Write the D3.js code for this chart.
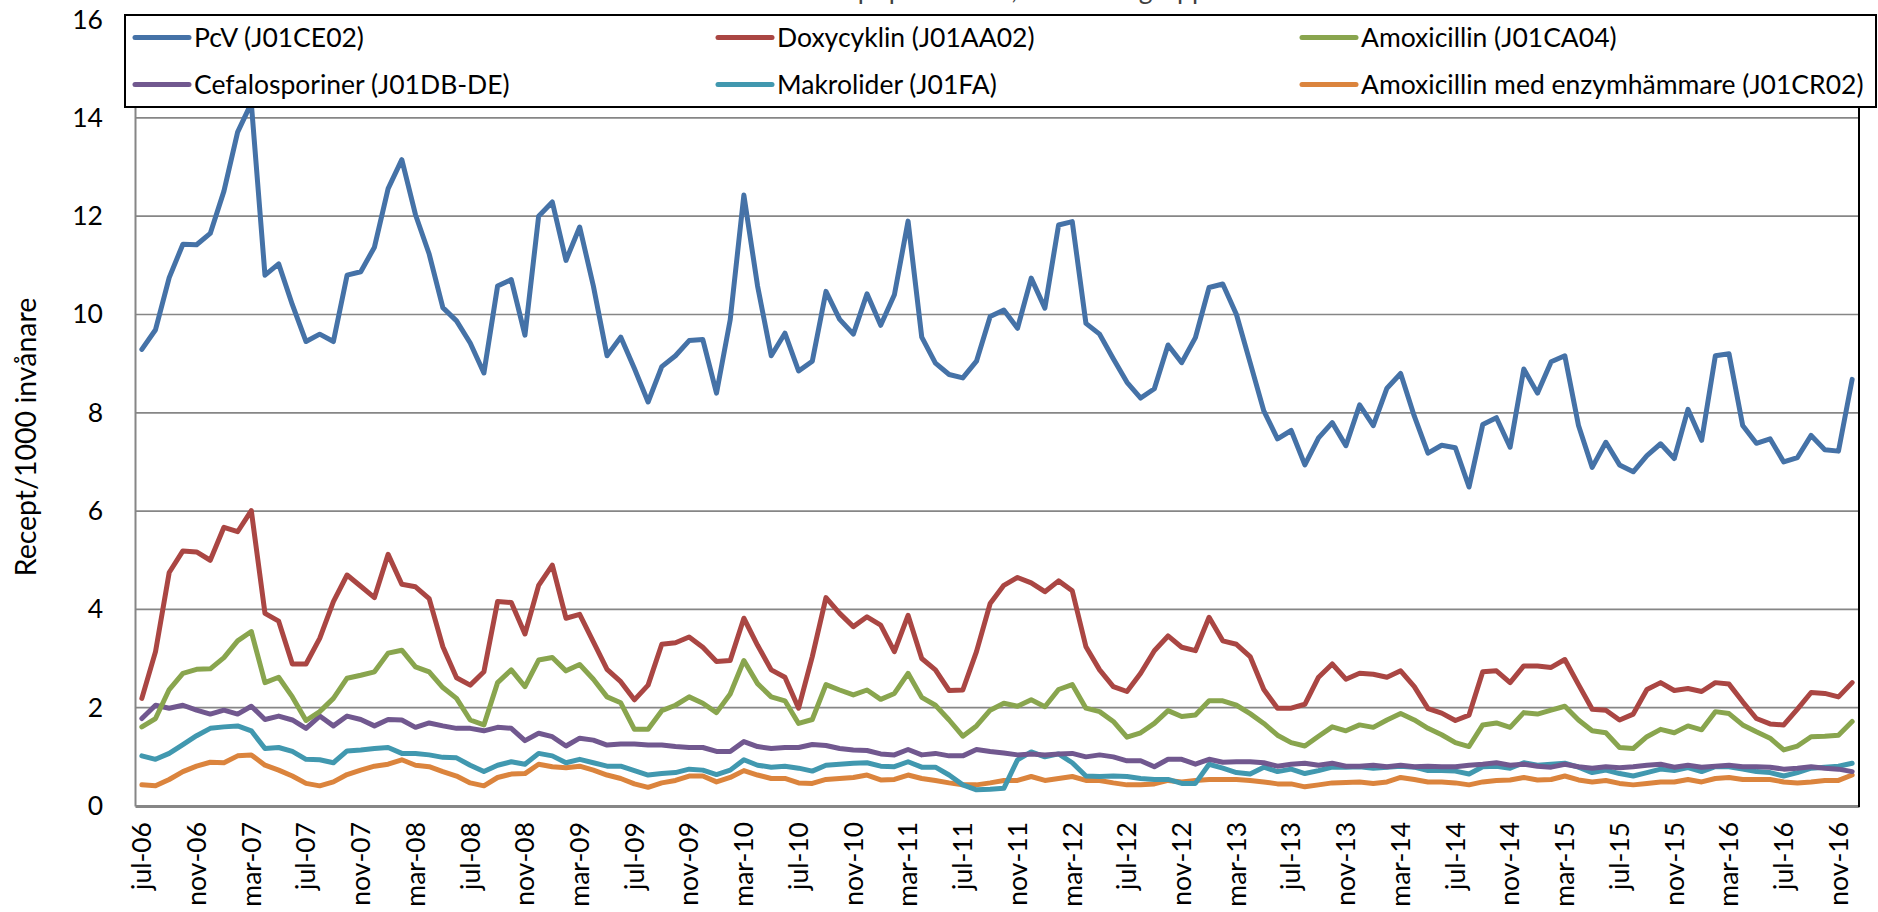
<!DOCTYPE html>
<html>
<head>
<meta charset="utf-8">
<script src="https://cdn.jsdelivr.net/npm/d3@7"></script>
<style>
  html, body { margin: 0; padding: 0; background: #fff; }
  svg { display: block; }
  text { font-family: Lato, "Open Sans", sans-serif; fill: #000; }
</style>
</head>
<body>
<svg id="chart" width="1878" height="912"></svg>
<script>
// ---------- data ----------
const monthNames = ["jan","feb","mar","apr","maj","jun","jul","aug","sep","okt","nov","dec"];
const startYear = 2006, startMonth = 6, nMonths = 126; // jul-06 .. dec-16
const categories = [];
for (let k = 0; k < nMonths; k++) {
  const m = (startMonth + k) % 12;
  const yr = startYear + Math.floor((startMonth + k) / 12);
  categories.push(monthNames[m] + "-" + String(yr % 100).padStart(2, "0"));
}
const tickLabels = categories.filter((c, i) => i % 4 === 0);
const yTicks = [0, 2, 4, 6, 8, 10, 12, 14, 16];

const seriesNames = ["PcV (J01CE02)", "Doxycyklin (J01AA02)", "Amoxicillin (J01CA04)",
  "Cefalosporiner (J01DB-DE)", "Makrolider (J01FA)", "Amoxicillin med enzymhämmare (J01CR02)"];

const pcv = [9.29,9.69,10.75,11.43,11.42,11.65,12.51,13.71,14.3,10.80,11.03,10.2,9.45,9.6,9.45,10.8,10.87,11.37,12.56,13.15,12.03,11.23,10.14,9.87,9.42,8.81,10.58,10.71,9.58,12.0,12.29,11.1,11.78,10.58,9.16,9.54,8.9,8.22,8.94,9.16,9.47,9.49,8.4,9.89,12.43,10.58,9.16,9.62,8.85,9.05,10.47,9.9,9.6,10.42,9.78,10.4,11.9,9.54,9.01,8.78,8.71,9.05,9.96,10.09,9.72,10.74,10.13,11.82,11.89,9.82,9.6,9.1,8.62,8.3,8.49,9.38,9.02,9.53,10.55,10.62,10.0,9.02,8.04,7.47,7.64,6.94,7.49,7.8,7.33,8.16,7.74,8.5,8.8,7.93,7.18,7.34,7.29,6.49,7.76,7.9,7.3,8.89,8.4,9.04,9.16,7.74,6.89,7.4,6.94,6.8,7.13,7.37,7.07,8.07,7.44,9.16,9.2,7.74,7.38,7.47,7.0,7.09,7.54,7.25,7.22,8.68];

const doxy = [2.19,3.14,4.75,5.19,5.17,5.0,5.67,5.58,6.01,3.92,3.76,2.89,2.89,3.41,4.16,4.70,4.47,4.24,5.12,4.51,4.46,4.22,3.24,2.61,2.46,2.73,4.16,4.14,3.5,4.49,4.9,3.82,3.9,
  3.34,2.78,2.53,2.16,2.46,3.29,3.32,3.44,3.23,2.94,2.96,3.82,3.27,2.77,2.62,1.99,3.04,4.24,3.92,3.65,3.85,3.68,3.14,3.88,3.0,2.77,2.35,2.36,3.14,4.12,4.49,
  4.65,4.54,4.36,4.58,4.38,3.24,2.77,2.43,2.33,2.7,3.16,3.46,3.23,3.16,3.84,3.36,3.29,3.04,2.37,1.99,1.99,2.07,2.62,2.89,2.58,2.7,2.68,2.62,2.75,2.43,1.98,1.89,
  1.74,1.85,2.73,2.75,2.51,2.85,2.85,2.82,2.98,2.47,1.97,1.95,1.75,1.87,2.37,2.51,2.35,2.39,2.33,2.51,2.48,2.12,1.78,1.67,1.65,1.97,2.31,2.29,2.22,2.51];

const amox = [1.61,1.78,2.37,2.7,2.78,2.79,3.02,3.36,3.55,2.51,2.62,2.22,1.74,1.92,2.19,2.6,2.66,2.73,3.11,3.17,2.83,2.73,2.41,2.19,1.75,1.65,2.51,2.77,2.43,2.97,3.02,2.75,2.88,
  2.58,2.22,2.1,1.56,1.56,1.94,2.05,2.22,2.09,1.9,2.28,2.96,2.49,2.22,2.14,1.68,1.76,2.47,2.36,2.26,2.36,2.17,2.29,2.7,2.21,2.05,1.75,1.42,1.63,1.95,2.09,
  2.03,2.16,2.02,2.37,2.47,1.99,1.92,1.72,1.4,1.49,1.68,1.94,1.82,1.85,2.14,2.14,2.05,1.88,1.68,1.44,1.29,1.22,1.42,1.61,1.53,1.65,1.6,1.75,1.88,1.75,1.58,1.45,
  1.29,1.21,1.65,1.69,1.6,1.9,1.87,1.95,2.03,1.75,1.53,1.49,1.19,1.17,1.41,1.56,1.49,1.63,1.55,1.92,1.88,1.65,1.51,1.38,1.14,1.22,1.41,1.42,1.44,1.72];

const cefa = [1.78,2.05,1.99,2.05,1.95,1.87,1.95,1.87,2.03,1.76,1.83,1.75,1.58,1.83,1.63,1.83,1.76,1.63,1.76,1.75,1.6,1.69,1.63,1.58,1.58,1.53,1.6,1.58,1.33,1.48,1.41,1.22,1.38,
  1.34,1.24,1.26,1.26,1.24,1.24,1.21,1.19,1.19,1.11,1.11,1.31,1.21,1.17,1.19,1.19,1.25,1.23,1.17,1.14,1.13,1.06,1.04,1.15,1.04,1.07,1.02,1.02,1.15,1.11,1.08,
  1.04,1.06,1.04,1.06,1.07,1.0,1.04,1.0,0.92,0.92,0.8,0.95,0.95,0.85,0.95,0.89,0.9,0.9,0.88,0.81,0.85,0.87,0.83,0.87,0.81,0.81,0.83,0.8,0.83,0.8,0.81,0.8,
  0.8,0.83,0.85,0.88,0.83,0.85,0.81,0.79,0.85,0.8,0.77,0.8,0.78,0.8,0.83,0.85,0.79,0.83,0.79,0.81,0.83,0.8,0.8,0.79,0.75,0.77,0.8,0.77,0.75,0.7];

const makro = [1.02,0.95,1.07,1.25,1.43,1.58,1.61,1.63,1.53,1.17,1.19,1.11,0.95,0.94,0.88,1.12,1.14,1.17,1.19,1.07,1.07,1.04,0.99,0.98,0.83,0.70,0.83,0.9,0.85,1.07,1.02,0.88,0.95,
  0.88,0.81,0.81,0.72,0.63,0.66,0.68,0.75,0.73,0.64,0.73,0.94,0.83,0.79,0.81,0.77,0.71,0.83,0.85,0.87,0.88,0.81,0.8,0.9,0.79,0.79,0.63,0.43,0.33,0.34,0.36,
  0.94,1.1,1.0,1.06,0.88,0.61,0.6,0.61,0.6,0.56,0.54,0.54,0.46,0.46,0.85,0.77,0.68,0.65,0.79,0.7,0.75,0.66,0.72,0.79,0.79,0.8,0.77,0.79,0.81,0.79,0.72,0.72,
  0.71,0.65,0.8,0.81,0.77,0.88,0.83,0.85,0.87,0.79,0.68,0.73,0.66,0.61,0.68,0.75,0.72,0.78,0.7,0.8,0.8,0.75,0.7,0.68,0.61,0.68,0.77,0.79,0.81,0.87];

const amoxEnz = [0.43,0.41,0.54,0.70,0.81,0.89,0.88,1.02,1.04,0.83,0.73,0.61,0.46,0.41,0.49,0.64,0.73,0.81,0.85,0.94,0.83,0.80,0.70,0.61,0.47,0.41,0.58,0.65,0.66,0.85,0.8,0.78,0.81,
  0.73,0.63,0.56,0.45,0.38,0.47,0.52,0.61,0.61,0.49,0.58,0.72,0.63,0.56,0.56,0.47,0.46,0.54,0.56,0.58,0.63,0.53,0.54,0.63,0.56,0.52,0.47,0.43,0.43,0.47,0.52,
  0.52,0.6,0.52,0.56,0.6,0.52,0.52,0.47,0.43,0.43,0.45,0.52,0.49,0.52,0.54,0.54,0.54,0.52,0.49,0.45,0.45,0.39,0.43,0.47,0.48,0.49,0.46,0.49,0.58,0.54,0.49,0.49,
  0.47,0.43,0.49,0.52,0.53,0.58,0.53,0.54,0.61,0.53,0.49,0.52,0.46,0.43,0.46,0.49,0.49,0.54,0.49,0.56,0.58,0.54,0.54,0.54,0.49,0.47,0.49,0.52,0.52,0.63];

const seriesColors = ["#4572A7", "#AA4643", "#89A54E", "#71588F", "#4198AF", "#DB843D"];
const seriesValues = [pcv, doxy, amox, cefa, makro, amoxEnz];
const drawOrder = [5, 4, 3, 2, 1, 0];

// ---------- layout ----------
const svg = d3.select("#chart");
const plotL = 135, plotR = 1859, plotT = 19.6, plotB = 806;
const fs = "26.5px";

const x = d3.scaleBand().domain(categories).range([plotL, plotR]).paddingInner(0).paddingOuter(0);
const y = d3.scaleLinear().domain([0, 16]).range([plotB, plotT]);
const cx = c => x(c) + x.bandwidth() / 2;

// title (clipped at the top edge, as in the reference)
svg.append("text")
  .attr("x", 1016).attr("y", -1)
  .attr("text-anchor", "middle")
  .style("font-size", fs).style("fill", "#404040")
  .text("Recept per månad, alla åldersgrupper");

// gridlines
svg.append("g").selectAll("line")
  .data(yTicks.filter(v => v > 0))
  .join("line")
  .attr("x1", plotL).attr("x2", plotR)
  .attr("y1", d => y(d)).attr("y2", d => y(d))
  .attr("stroke", "#868686").attr("stroke-width", 1.7);

// y axis
const yAxis = svg.append("g")
  .attr("transform", `translate(${plotL},0)`)
  .call(d3.axisLeft(y).tickValues(yTicks).tickSize(0).tickPadding(32).tickFormat(d3.format("d")));
yAxis.select(".domain").attr("stroke", "#868686").attr("stroke-width", 2);
yAxis.selectAll("text").style("font-size", fs).style("font-family", "Lato, sans-serif").attr("fill", "#000");

// x axis
const xAxis = svg.append("g")
  .attr("transform", `translate(0,${plotB})`)
  .call(d3.axisBottom(x).tickValues(tickLabels).tickSize(0).tickPadding(0));
xAxis.select(".domain").attr("stroke", "#868686").attr("stroke-width", 3);
xAxis.selectAll("text")
  .style("font-size", fs).style("font-family", "Lato, sans-serif").attr("fill", "#000")
  .attr("transform", "rotate(-90)")
  .attr("text-anchor", "end")
  .attr("x", -16).attr("y", 0).attr("dy", "0.35em");

// right border of plot area
svg.append("line")
  .attr("x1", plotR).attr("x2", plotR).attr("y1", plotT).attr("y2", plotB + 1)
  .attr("stroke", "#000").attr("stroke-width", 2);

// y axis title
svg.append("text")
  .attr("transform", "translate(36,437) rotate(-90)")
  .attr("text-anchor", "middle")
  .style("font-size", "28.5px")
  .text("Recept/1000 invånare");

// lines
const line = d3.line().x((d, i) => cx(categories[i])).y(d => y(d));
svg.append("g").selectAll("path")
  .data(drawOrder)
  .join("path")
  .attr("d", k => line(seriesValues[k]))
  .attr("fill", "none")
  .attr("stroke", k => seriesColors[k])
  .attr("stroke-width", 5)
  .attr("stroke-linejoin", "round")
  .attr("stroke-linecap", "round");

// legend
const lg = svg.append("g");
lg.append("rect")
  .attr("x", 125).attr("y", 15).attr("width", 1751).attr("height", 92)
  .attr("fill", "#fff").attr("stroke", "#000").attr("stroke-width", 2);
const colX = [135, 718, 1302];
const rowY = [37.5, 84.5];
seriesNames.forEach((name, k) => {
  const cxl = colX[k % 3], cyl = rowY[Math.floor(k / 3)];
  lg.append("line")
    .attr("x1", cxl).attr("x2", cxl + 54).attr("y1", cyl).attr("y2", cyl)
    .attr("stroke", seriesColors[k]).attr("stroke-width", 5).attr("stroke-linecap", "round");
  lg.append("text")
    .attr("x", cxl + 59).attr("y", cyl).attr("dy", "0.35em")
    .style("font-size", fs)
    .text(name);
});
</script>
</body>
</html>
